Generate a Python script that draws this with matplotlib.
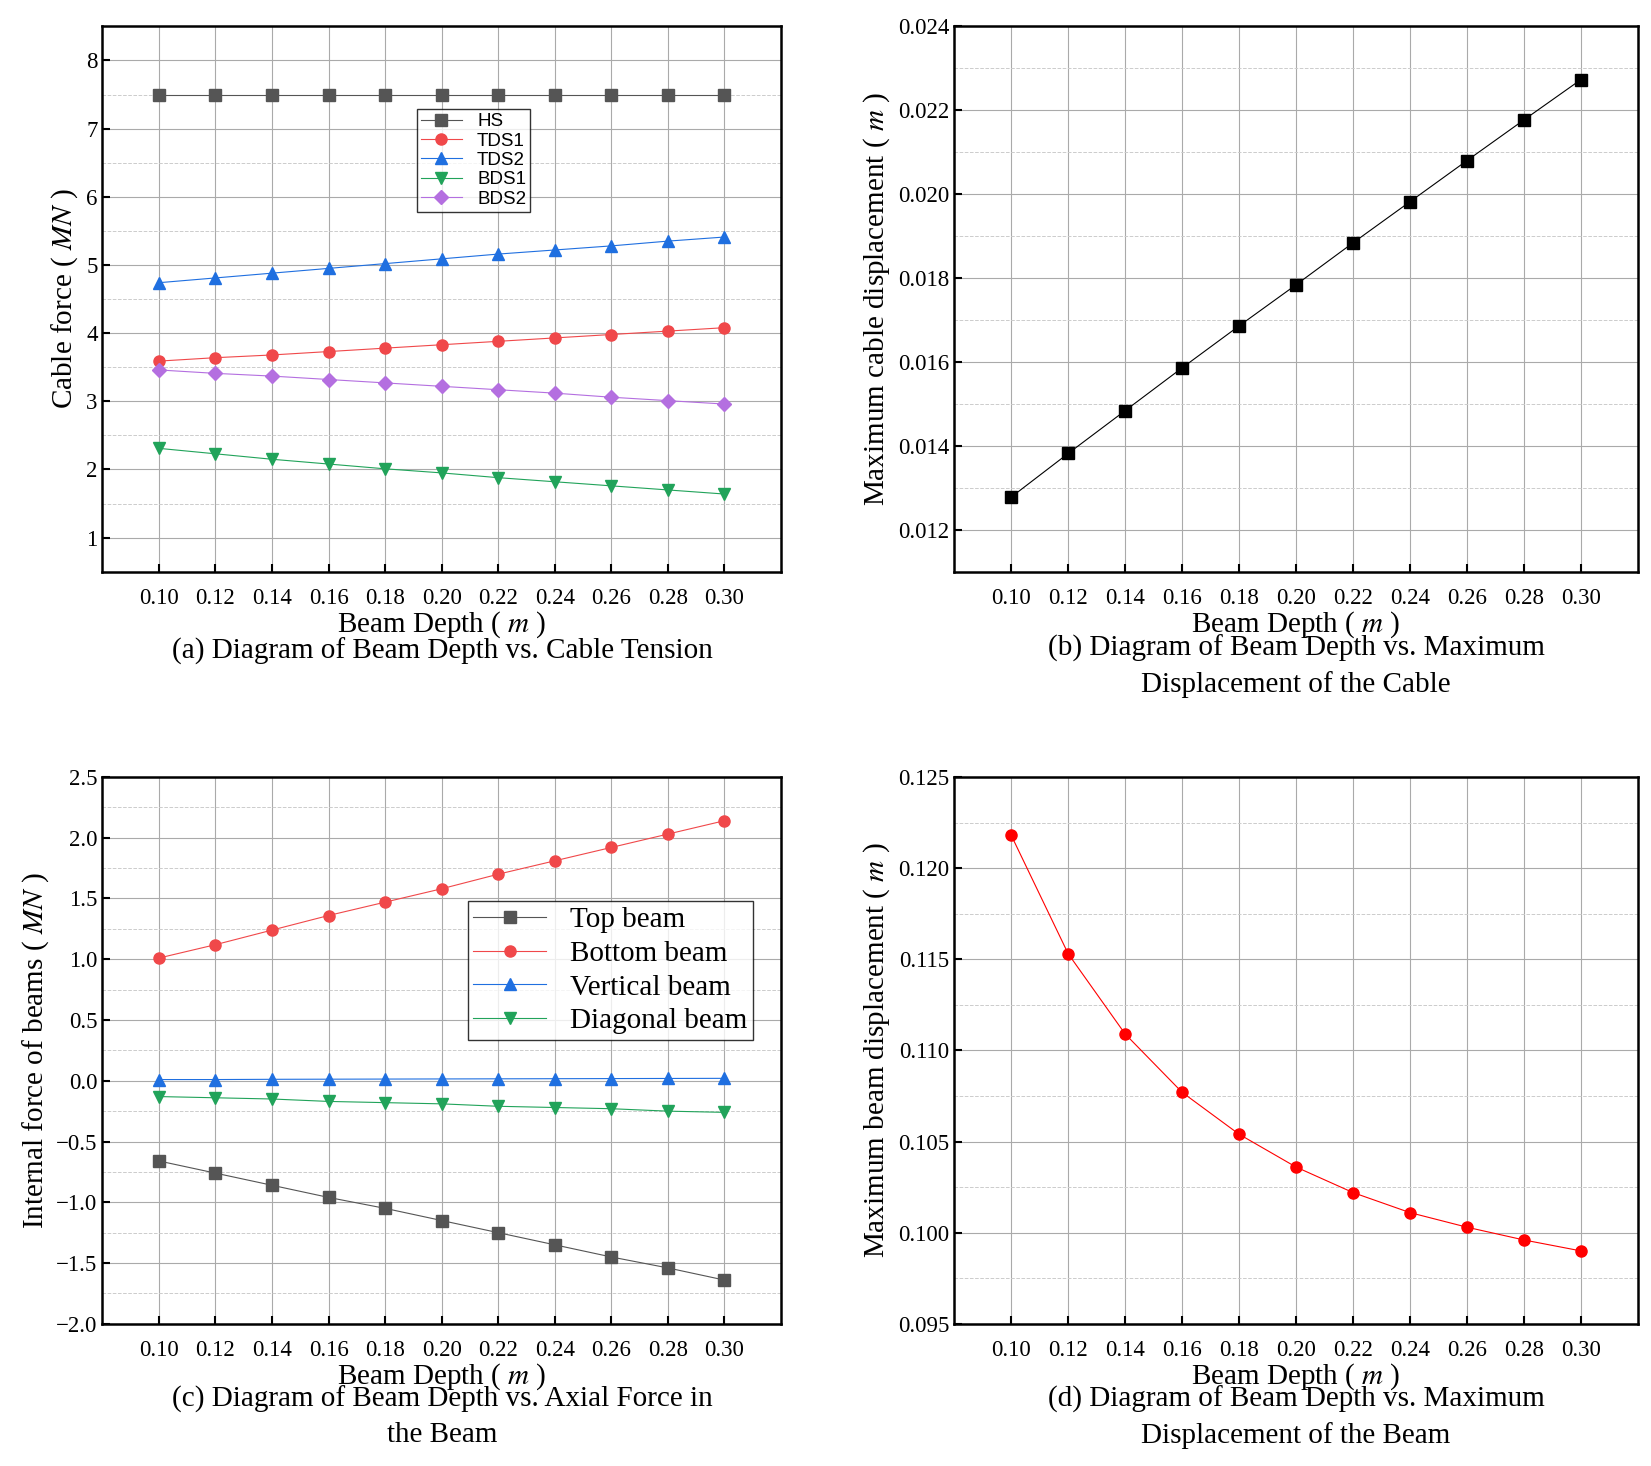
import matplotlib
matplotlib.use('Agg')
import matplotlib.pyplot as plt
import numpy as np

depth = [0.10,0.12,0.14,0.16,0.18,0.20,0.22,0.24,0.26,0.28,0.30]
hs = [7.5]*11
tds1 = [3.59,3.64,3.68,3.73,3.78,3.83,3.88,3.93,3.98,4.03,4.08]
tds2 = [4.74,4.81,4.88,4.95,5.02,5.09,5.16,5.22,5.28,5.35,5.41]
bds1 = [2.31,2.23,2.15,2.08,2.01,1.95,1.88,1.82,1.76,1.70,1.64]
bds2 = [3.46,3.41,3.37,3.32,3.27,3.22,3.17,3.12,3.06,3.01,2.96]
cable_disp = [0.01278,0.01382,0.01484,0.01586,0.01686,0.01784,0.01884,0.01982,0.02080,0.02177,0.02273]
top_beam = [-0.66,-0.76,-0.86,-0.96,-1.05,-1.15,-1.25,-1.35,-1.45,-1.54,-1.64]
bottom_beam = [1.01,1.12,1.24,1.36,1.47,1.58,1.70,1.81,1.92,2.03,2.14]
vertical_beam = [0.01,0.01,0.012,0.013,0.014,0.015,0.016,0.017,0.018,0.019,0.02]
diagonal_beam = [-0.13,-0.14,-0.15,-0.17,-0.18,-0.19,-0.21,-0.22,-0.23,-0.25,-0.26]
beam_disp = [0.1218,0.1153,0.1109,0.1077,0.1054,0.1036,0.1022,0.1011,0.1003,0.0996,0.0990]

plt.rcParams['font.family'] = ['Liberation Serif']
plt.rcParams['mathtext.fontset'] = 'stix'
fig = plt.figure(figsize=(16.51,14.66), dpi=100)
def mkax(l, r, t, b):
    return fig.add_axes([l, b, r-l, t-b])
ax_a = mkax(0.062, 0.473, 0.982, 0.610)
ax_b = mkax(0.578, 0.992, 0.982, 0.610)
ax_c = mkax(0.062, 0.473, 0.470, 0.097)
ax_d = mkax(0.578, 0.992, 0.470, 0.097)

cols = {'hs':'#555555','r':'#f0484a','b':'#1f6fe0','g':'#21a35a','p':'#b46fe0'}

def style(ax, ylim, major, minor, fmt):
    ax.set_xlim(0.08, 0.32)
    ax.set_ylim(*ylim)
    ax.set_xticks(depth)
    ax.set_xticklabels(['%.2f' % d for d in depth])
    ax.set_yticks(np.arange(major[0], major[1]+1e-9, major[2]))
    ax.yaxis.set_major_formatter(matplotlib.ticker.FormatStrFormatter(fmt))
    ax.set_yticks(np.arange(minor[0], minor[1]+1e-9, minor[2]), minor=True)
    ax.grid(True, which='major', color='#aaaaaa', lw=0.8)
    ax.grid(True, which='minor', axis='y', color='#cccccc', lw=0.7, ls='--')
    ax.tick_params(direction='in', labelsize=16.5, width=1.5, length=6)
    ax.tick_params(which='minor', length=0)
    ax.tick_params(axis='x', pad=12)
    for s in ax.spines.values():
        s.set_linewidth(1.8)
    ax.set_axisbelow(True)
    ax.set_xlabel('Beam Depth ( $m$ )', fontsize=21, labelpad=0)

ms = 8
ax_a.plot(depth, hs, '-s', color=cols['hs'], lw=0.8, ms=ms, label='HS')
ax_a.plot(depth, tds1, '-o', color=cols['r'], lw=0.8, ms=ms, label='TDS1')
ax_a.plot(depth, tds2, '-^', color=cols['b'], lw=0.8, ms=ms+1, label='TDS2')
ax_a.plot(depth, bds1, '-v', color=cols['g'], lw=0.8, ms=ms+1, label='BDS1')
ax_a.plot(depth, bds2, '-D', color=cols['p'], lw=0.8, ms=ms-1, label='BDS2')
style(ax_a, (0.5, 8.5), (1, 8, 1), (1.5, 8.0, 1), '%d')
ax_a.set_ylabel('Cable force ( $MN$ )', fontsize=21)
ax_a.legend(loc='upper left', bbox_to_anchor=(0.45, 0.865), frameon=True, fancybox=False,
            edgecolor='black', prop={'family':'Liberation Sans','size':13.5}, handlelength=2.2,
            borderpad=0.2, labelspacing=0.12)

ax_b.plot(depth, cable_disp, '-s', color='black', lw=0.8, ms=ms)
style(ax_b, (0.011, 0.024), (0.012, 0.024, 0.002), (0.013, 0.023, 0.002), '%.3f')
ax_b.set_ylabel('Maximum cable displacement ( $m$ )', fontsize=21)

ax_c.plot(depth, top_beam, '-s', color=cols['hs'], lw=0.8, ms=ms, label='Top beam')
ax_c.plot(depth, bottom_beam, '-o', color=cols['r'], lw=0.8, ms=ms, label='Bottom beam')
ax_c.plot(depth, vertical_beam, '-^', color=cols['b'], lw=0.8, ms=ms+1, label='Vertical beam')
ax_c.plot(depth, diagonal_beam, '-v', color=cols['g'], lw=0.8, ms=ms+1, label='Diagonal beam')
style(ax_c, (-2.0, 2.5), (-2.0, 2.5, 0.5), (-1.75, 2.25, 0.5), '%.1f')
ax_c.yaxis.set_major_formatter(matplotlib.ticker.FuncFormatter(lambda v, p: ('%.1f' % v).replace('-', '\u2212')))
ax_c.set_ylabel('Internal force of beams ( $MN$ )', fontsize=21)
ax_c.legend(loc='upper right', bbox_to_anchor=(0.98, 0.8), fontsize=21, frameon=True, fancybox=False,
            edgecolor='black', handlelength=2.5, borderpad=0.2, labelspacing=0.25)

ax_d.plot(depth, beam_disp, '-o', color='red', lw=0.8, ms=ms)
style(ax_d, (0.095, 0.125), (0.095, 0.125, 0.005), (0.0975, 0.1225, 0.005), '%.3f')
ax_d.set_ylabel('Maximum beam displacement ( $m$ )', fontsize=21)

def cap(x, y, s):
    fig.text(x, y, s, ha='center', va='top', fontsize=21, linespacing=1.45)
cap(0.268, 0.565, '(a) Diagram of Beam Depth vs. Cable Tension')
cap(0.785, 0.567, '(b) Diagram of Beam Depth vs. Maximum\nDisplacement of the Cable')
cap(0.268, 0.055, '(c) Diagram of Beam Depth vs. Axial Force in\nthe Beam')
cap(0.785, 0.055, '(d) Diagram of Beam Depth vs. Maximum\nDisplacement of the Beam')

fig.savefig('out.png', dpi=100)
